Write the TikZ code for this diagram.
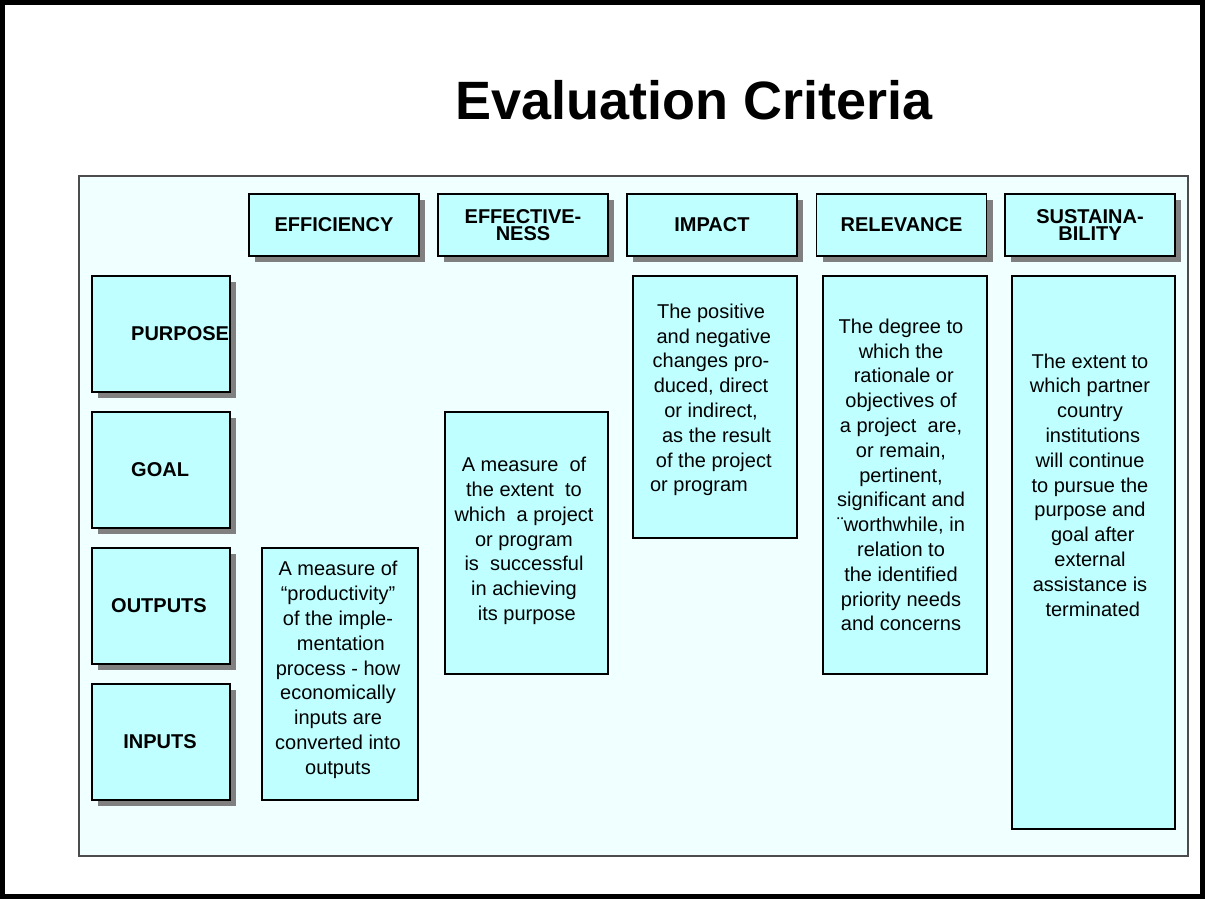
\documentclass[tikz,border=0pt]{standalone}
\usepackage{fontspec}
\setmainfont{Liberation Sans}
\usetikzlibrary{shadows}
\definecolor{panelfill}{RGB}{240,255,255}
\definecolor{boxfill}{RGB}{192,255,255}
\definecolor{shadowgray}{RGB}{128,128,128}
\tikzset{
  box/.style={draw=black, line width=1.4pt, fill=boxfill, inner sep=0pt, anchor=center},
  shadowbox/.style={box, drop shadow={shadow xshift=6pt, shadow yshift=-6pt, fill=shadowgray, opacity=1}},
  headtext/.style={font=\bfseries\fontsize{20}{17}\selectfont, align=center},
  rowtext/.style={font=\bfseries\fontsize{20}{24}\selectfont, inner sep=0pt},
  bodytext/.style={font=\fontsize{20}{24.8}\selectfont, align=center, inner sep=0pt},
}
\begin{document}
\begin{tikzpicture}[x=1pt,y=-1pt]
\useasboundingbox (0,0) rectangle (1205,899);
\fill[white] (0,0) rectangle (1205,899);
% outer frame
\draw[line width=5pt] (2.5,2.5) rectangle (1202.5,896.5);
% title
\node[font=\bfseries\fontsize{54}{60}\selectfont, inner sep=0pt] (title) at (694,100) {Evaluation Criteria};
% panel
\draw[draw=black!70, line width=1.2pt, fill=panelfill] (79,176) rectangle (1188,856);
% header boxes
\node[shadowbox, headtext, minimum width=170pt, minimum height=62pt] (heff) at (334,225) {EFFICIENCY};
\node[shadowbox, headtext, minimum width=170pt, minimum height=62pt] (hefv) at (523,225) {EFFECTIVE-\\NESS};
\node[shadowbox, headtext, minimum width=170pt, minimum height=62pt] (himp) at (712,225) {IMPACT};
\node[shadowbox, headtext, minimum width=170pt, minimum height=62pt] (hrel) at (901.5,225) {RELEVANCE};
\node[shadowbox, headtext, minimum width=170pt, minimum height=62pt] (hsus) at (1090,225) {SUSTAINA-\\BILITY};
% row boxes
\node[shadowbox, minimum width=138pt, minimum height=116pt] (rpur) at (161,334) {};
\node[shadowbox, minimum width=138pt, minimum height=116pt] (rgoal) at (161,470) {};
\node[shadowbox, minimum width=138pt, minimum height=116pt] (rout) at (161,606) {};
\node[shadowbox, minimum width=138pt, minimum height=116pt] (rin) at (161,742) {};
\node[rowtext, anchor=west] (tpur) at (131,334) {PURPOSE};
\node[rowtext, anchor=west] (tgoal) at (131,470) {GOAL};
\node[rowtext] (tout) at (159,606) {OUTPUTS};
\node[rowtext] (tin) at (160,742) {INPUTS};
% description boxes
\node[box, minimum width=156pt, minimum height=252pt] (deff) at (340,674) {};
\node[bodytext] (teff) at (338,670) {A measure of\\``productivity''\\of the imple-\\\ mentation\\process - how\\economically\\inputs are\\converted into\\outputs};
\node[box, minimum width=163pt, minimum height=262pt] (defv) at (526.5,543) {};
\node[bodytext] (tefv) at (524,541) {A measure \ of\\the extent \ to\\which \ a project\\or program\hspace*{12pt}\\is \ successful\\in achieving\\\ its purpose};
\node[box, minimum width=164pt, minimum height=262pt] (dimp) at (715,407) {};
\node[bodytext] (timp) at (711,400) {The positive\\\ and negative\\changes pro-\\duced, direct\\or indirect,\\\ \ as the result\\\ of the project\\or program\hspace*{24pt}};
\node[box, minimum width=164pt, minimum height=398pt] (drel) at (905,475) {};
\node[bodytext] (trel) at (901,475) {The degree to\\which the\\\ rationale or\\objectives of\\a project \ are,\\or remain,\\pertinent,\\significant and\\¨worthwhile, in\\relation to\\the identified\\priority needs\\and concerns};
\node[box, minimum width=163pt, minimum height=553pt] (dsus) at (1093.5,552.5) {};
\node[bodytext] (tsus) at (1090,485) {The extent to\\which partner\\country\\\ institutions\\will continue\\to pursue the\\purpose and\\\ goal after\\external\\assistance is\\\ terminated};
\end{tikzpicture}
\end{document}
